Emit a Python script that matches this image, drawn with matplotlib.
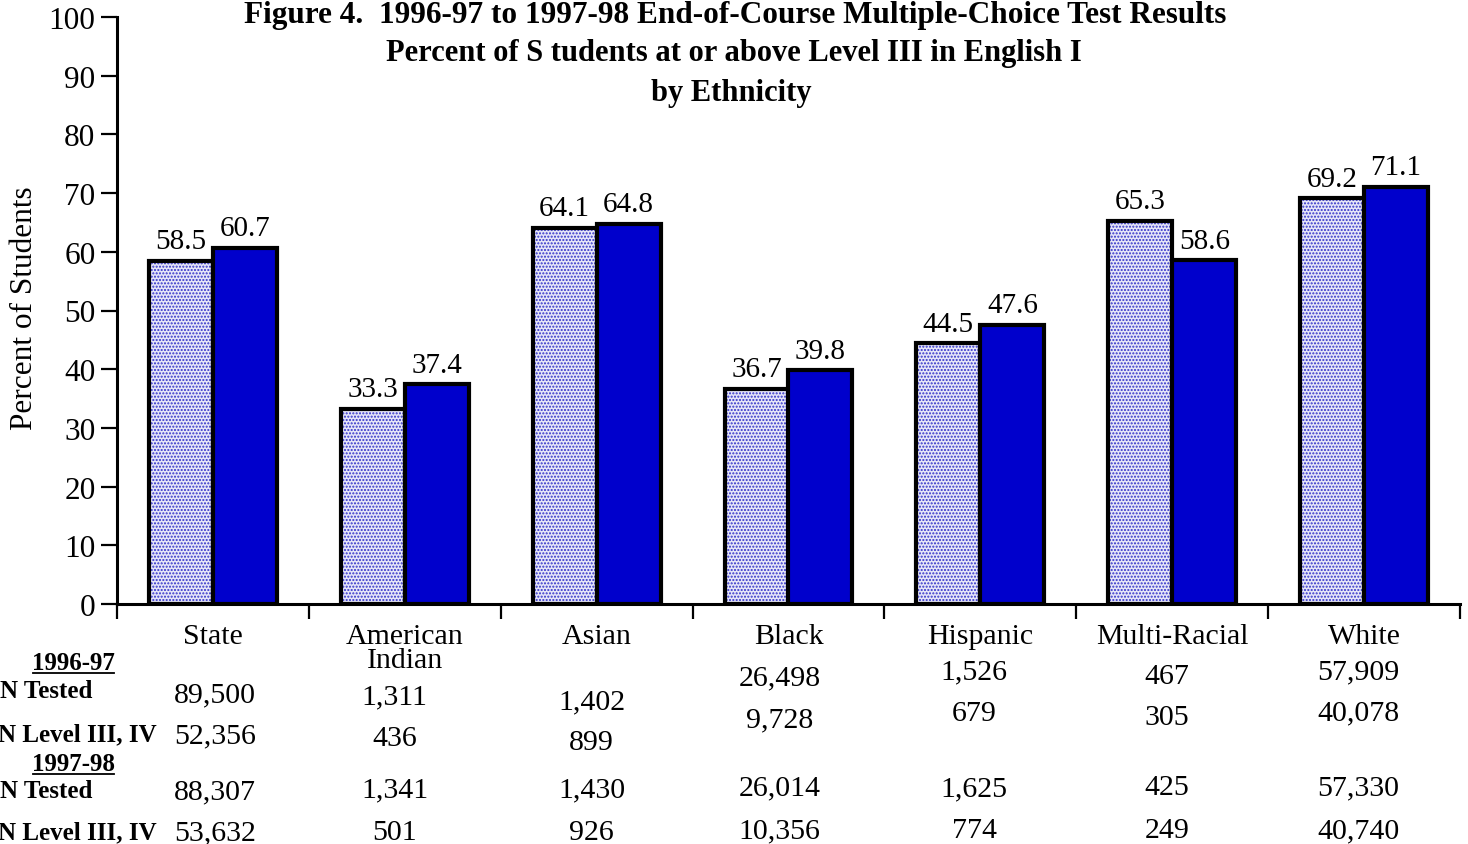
import numpy as np
import matplotlib.pyplot as plt
from matplotlib import transforms

plt.rcParams['font.family'] = ['Liberation Serif', 'DejaVu Serif']
plt.rcParams['hatch.linewidth'] = 1.0

# data
groups = ['State', 'American\nIndian', 'Asian', 'Black', 'Hispanic', 'Multi-Racial', 'White']
pct_9697 = [58.5, 33.3, 64.1, 36.7, 44.5, 65.3, 69.2]
pct_9798 = [60.7, 37.4, 64.8, 39.8, 47.6, 58.6, 71.1]

tested_9697 = ['89,500', '1,311', '1,402', '26,498', '1,526', '467', '57,909']
level_9697 = ['52,356', '436', '899', '9,728', '679', '305', '40,078']
tested_9798 = ['88,307', '1,341', '1,430', '26,014', '1,625', '425', '57,330']
level_9798 = ['53,632', '501', '926', '10,356', '774', '249', '40,740']

row_labels = ['N Tested', 'N Level III, IV', 'N Tested', 'N Level III, IV']

# layout (pixel rows of the table text, as in the original, which is a bit ragged)
W, H = 1468, 845
row_y = [[695, 697, 702, 678, 672, 677, 672],
         [736, 739, 743, 720, 714, 718, 713],
         [792, 790, 790, 788, 789, 788, 788],
         [833, 833, 833, 831, 831, 831, 831]]
col_nudge = [2, -10, -5, -9, -6, -5, -6]   # px

fig = plt.figure(figsize=(W / 100, H / 100), dpi=100)
ax = fig.add_axes([117 / W, 1 - 605 / H, (1460 - 117) / W, (605 - 18) / H])

x = np.arange(len(groups))
bw = 1 / 3
light = '#e6e6f8'
dark = '#0000cc'

# light bars: dotted fill (hatch takes the edge colour, so outline drawn separately)
ax.bar(x - bw / 2, pct_9697, bw, color=light, edgecolor='#3030c8', hatch='.....', linewidth=0, zorder=2)
ax.bar(x - bw / 2, pct_9697, bw, fill=False, edgecolor='black', linewidth=3, zorder=3)
ax.bar(x + bw / 2, pct_9798, bw, color=dark, edgecolor='black', linewidth=3, zorder=3)

for xi, v in zip(x, pct_9697):
    ax.annotate(f'{v:.1f}', (xi - bw / 2, v), xytext=(0, 4.5), textcoords='offset points',
                ha='center', va='bottom', fontsize=21)
for xi, v in zip(x, pct_9798):
    ax.annotate(f'{v:.1f}', (xi + bw / 2, v), xytext=(0, 4.5), textcoords='offset points',
                ha='center', va='bottom', fontsize=21)

ax.set_xlim(-0.5, len(groups) - 0.5)
ax.set_ylim(0, 100)
ax.set_yticks(range(0, 101, 10))
ax.tick_params(axis='y', length=11.5, width=1.6, pad=4, labelsize=22.5)
ax.set_xticks(np.arange(len(groups) + 1) - 0.5)
ax.set_xticklabels([])
ax.tick_params(axis='x', length=11, width=1.6)
for s in ['top', 'right']:
    ax.spines[s].set_visible(False)
for s in ['left', 'bottom']:
    ax.spines[s].set_linewidth(2.2)

fig.text(25 / W, 1 - 308 / H, 'Percent of Students', rotation=90, ha='center', va='center', fontsize=22.5)

# titles
fig.text(735 / W, 1 - 15 / H, 'Figure 4.  1996-97 to 1997-98 End-of-Course Multiple-Choice Test Results',
         ha='center', va='center', fontsize=22.5, fontweight='bold')
fig.text(734 / W, 1 - 53 / H, 'Percent of S tudents at or above Level III in English I',
         ha='center', va='center', fontsize=22, fontweight='bold')
fig.text(731 / W, 1 - 93 / H, 'by Ethnicity', ha='center', va='center', fontsize=22, fontweight='bold')

# category names and table under the axis
tr = transforms.blended_transform_factory(ax.transData, fig.transFigure)
for xi, g in zip(x, groups):
    ax.text(xi, 1 - 624 / H, g, transform=tr, ha='center', va='top', fontsize=21.5, linespacing=0.92)

for r, vals in enumerate([tested_9697, level_9697, tested_9798, level_9798]):
    for c, v in enumerate(vals):
        ax.text(c + col_nudge[c] / 192, 1 - row_y[r][c] / H, v, transform=tr,
                ha='center', va='center', fontsize=21.5)

for lab, yy in zip(['1996-97', '1997-98'], [664, 765]):
    fig.text(73 / W, 1 - yy / H, lab, ha='center', va='center', fontsize=18, fontweight='bold')
    fig.lines.append(plt.Line2D([33 / W, 114 / W], [1 - (yy + 10) / H] * 2, color='black',
                                linewidth=1.3, transform=fig.transFigure))
for lab, yy in zip(row_labels, [692, 735, 792, 833]):
    fig.text(92 / W if 'Tested' in lab else 157 / W, 1 - yy / H, lab, ha='right', va='center',
             fontsize=18, fontweight='bold')

fig.savefig('out.png', dpi=100)
